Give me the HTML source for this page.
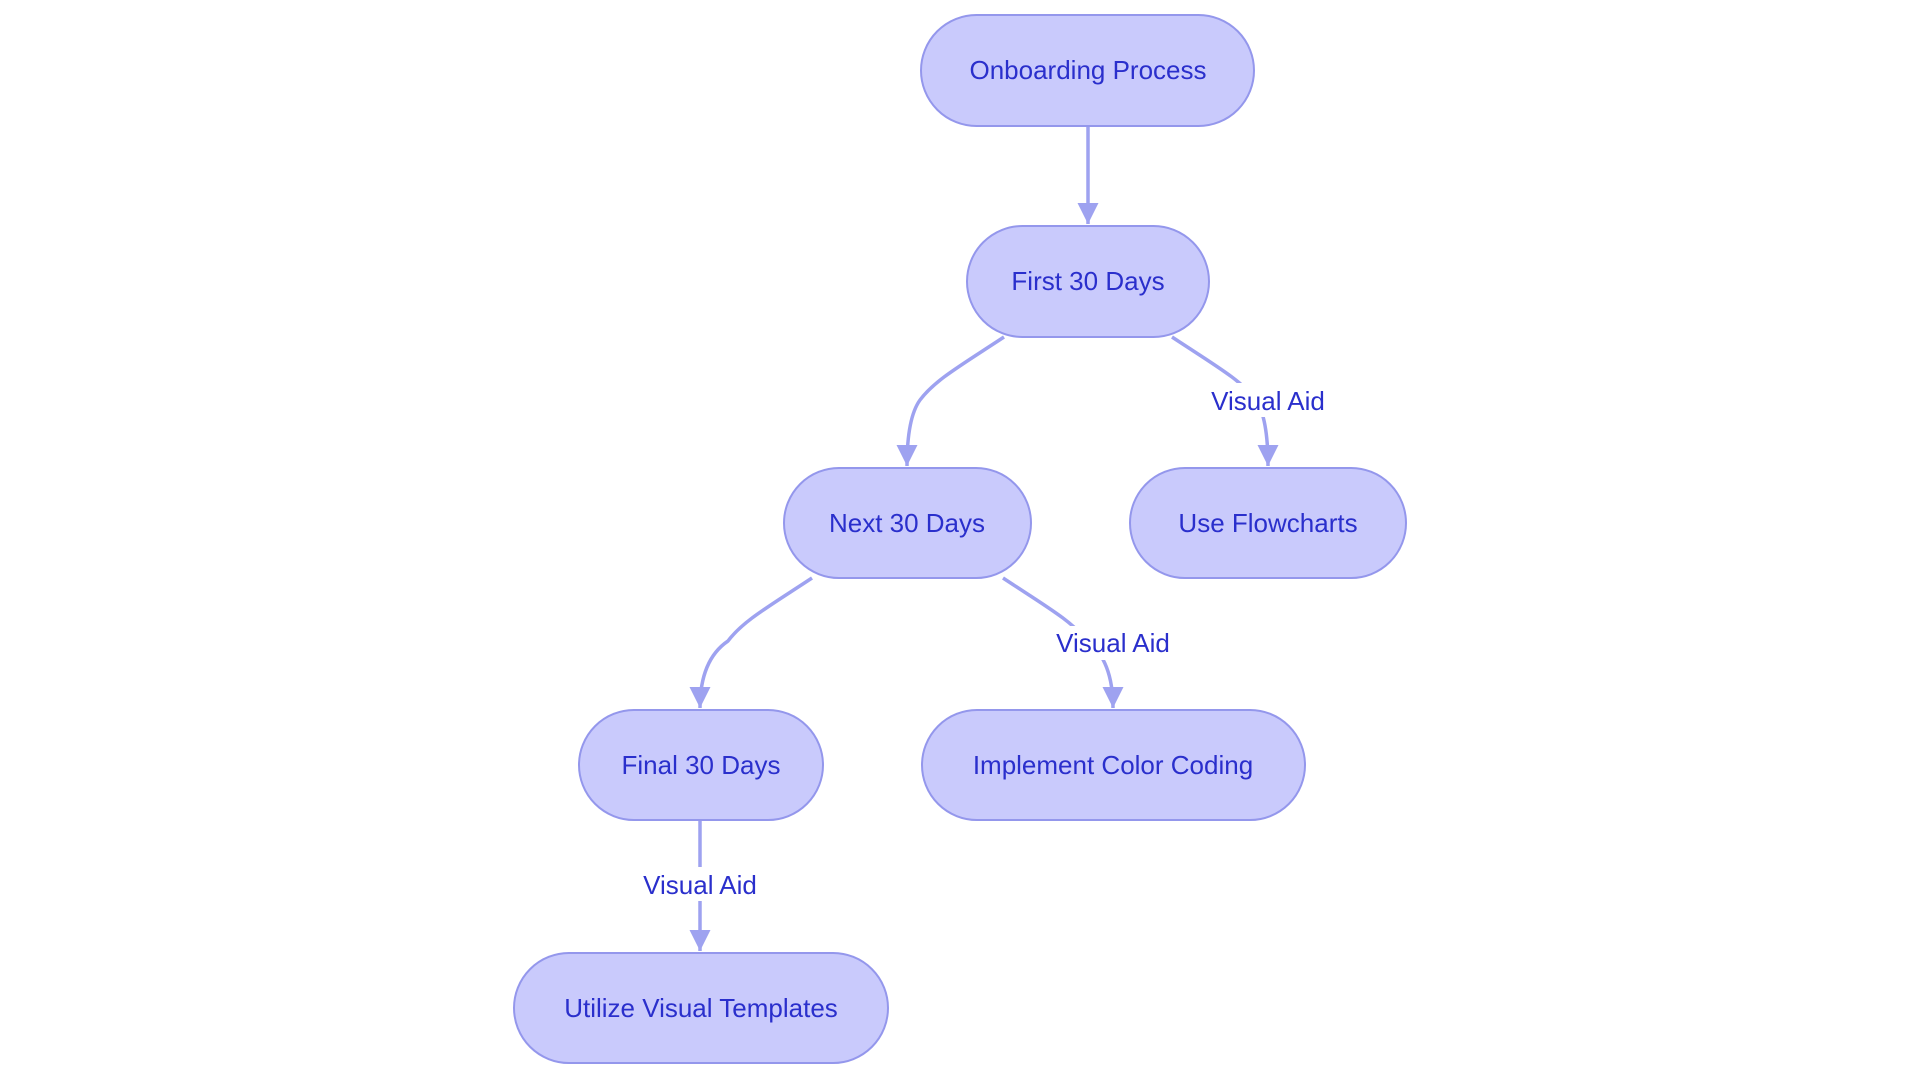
<!DOCTYPE html>
<html><head><meta charset="utf-8"><style>
html,body{margin:0;padding:0;background:#fff;}
svg{display:block}
text{font-family:"Liberation Sans",sans-serif;font-size:26px;fill:#2a2fcc;}
</style></head><body>
<svg width="1920" height="1083" viewBox="0 0 1920 1083" xmlns="http://www.w3.org/2000/svg">
<defs>
<marker id="a" viewBox="0 0 10 10" refX="10" refY="5" markerWidth="6" markerHeight="6" orient="auto" markerUnits="strokeWidth">
<path d="M0,0 L10,5 L0,10 z" fill="#9ea2f0"/></marker>
</defs>
<g fill="none" stroke="#9ea2f0" stroke-width="3.5" marker-end="url(#a)">
<path d="M1088,127 L1088,224"/>
<path d="M1004,337 C960,366 935,380 920,400 Q907,418 907,466"/>
<path d="M1172,337 C1216,366 1241,380 1256,400 Q1268,418 1268,466"/>
<path d="M812,578 C768,607 743,621 728,641 Q700,660 700,708"/>
<path d="M1003,578 C1047,607 1072,621 1087,641 Q1113,660 1113,708"/>
<path d="M700,820 L700,951"/>
</g>
<g fill="#fff">
<rect x="1205" y="383" width="126" height="34"/>
<rect x="1050" y="626" width="126" height="34"/>
<rect x="637" y="867" width="126" height="34"/>
</g>
<g text-anchor="middle">
<text x="1268" y="410">Visual Aid</text>
<text x="1113" y="652">Visual Aid</text>
<text x="700" y="894">Visual Aid</text>
</g>
<g fill="#c9cafc" stroke="#9497ec" stroke-width="2">
<rect x="921" y="15" width="333" height="111" rx="55.5"/>
<rect x="967" y="226" width="242" height="111" rx="55.5"/>
<rect x="784" y="468" width="247" height="110" rx="55"/>
<rect x="1130" y="468" width="276" height="110" rx="55"/>
<rect x="579" y="710" width="244" height="110" rx="55"/>
<rect x="922" y="710" width="383" height="110" rx="55"/>
<rect x="514" y="953" width="374" height="110" rx="55"/>
</g>
<g text-anchor="middle">
<text x="1088" y="79">Onboarding Process</text>
<text x="1088" y="290">First 30 Days</text>
<text x="907" y="532">Next 30 Days</text>
<text x="1268" y="532">Use Flowcharts</text>
<text x="701" y="774">Final 30 Days</text>
<text x="1113" y="774">Implement Color Coding</text>
<text x="701" y="1017">Utilize Visual Templates</text>
</g>
</svg>
</body></html>
